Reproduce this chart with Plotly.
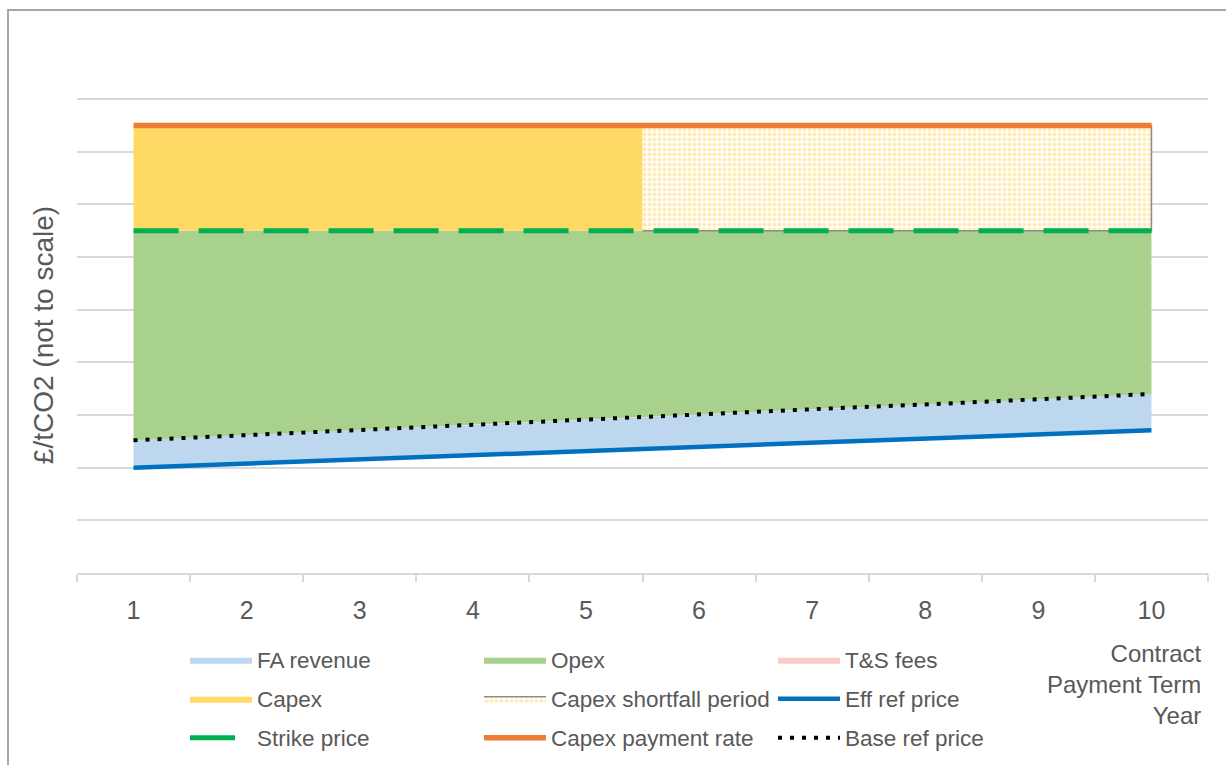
import numpy as np
import plotly.graph_objects as go

# Contract payment term years
years = [1, 2, 3, 4, 5, 6, 7, 8, 9, 10]
year_labels = ["1", "2", "3", "4", "5", "6", "7", "8", "9", "10"]

# Price levels in £/tCO2 (illustrative, not to scale)
eff_ref_price = [2.00, 2.08, 2.16, 2.24, 2.32, 2.39, 2.47, 2.55, 2.63, 2.71]
base_ref_price = [2.52, 2.62, 2.72, 2.81, 2.91, 3.01, 3.11, 3.20, 3.30, 3.40]
strike_price = [6.5, 6.5, 6.5, 6.5, 6.5, 6.5, 6.5, 6.5, 6.5, 6.5]
ts_fees = [0, 0, 0, 0, 0, 0, 0, 0, 0, 0]
capex_payment_rate = [8.5, 8.5, 8.5, 8.5, 8.5, 8.5, 8.5, 8.5, 8.5, 8.5]

# Year at which capex recovery stops and the shortfall period begins
shortfall_start = 5.5

FONT = "Liberation Sans, Arial, sans-serif"
GREY_TEXT = "#595959"
GRID = "#d9d9d9"

strike_plus_ts = [s + t for s, t in zip(strike_price, ts_fees)]


def band(xs, lower, upper):
    """Closed polygon between two boundary series."""
    return list(xs) + list(xs)[::-1], list(lower) + list(upper)[::-1]


fig = go.Figure()

# FA revenue band: effective -> base reference price
bx, by = band(years, eff_ref_price, base_ref_price)
fig.add_trace(go.Scatter(x=bx, y=by, fill="toself", fillcolor="#bdd7ee",
                         mode="lines", line=dict(width=0, color="#bdd7ee"),
                         name="FA revenue", legend="legend", hoverinfo="skip"))

# Opex band: base reference price -> strike price
bx, by = band(years, base_ref_price, strike_price)
fig.add_trace(go.Scatter(x=bx, y=by, fill="toself", fillcolor="#a9d18e",
                         mode="lines", line=dict(width=0, color="#a9d18e"),
                         name="Opex", legend="legend", hoverinfo="skip"))

# T&S fees band (zero height over the term)
bx, by = band(years, strike_price, strike_plus_ts)
fig.add_trace(go.Scatter(x=bx, y=by, fill="toself", fillcolor="#ffc9c9",
                         mode="lines", line=dict(width=0, color="#ffc9c9"),
                         name="T&S fees", legend="legend", hoverinfo="skip"))

# Capex band up to the start of the shortfall period
cap_x = [y for y in years if y < shortfall_start] + [shortfall_start]
cap_lo = np.interp(cap_x, years, strike_plus_ts)
cap_hi = np.interp(cap_x, years, capex_payment_rate)
bx, by = band(cap_x, cap_lo, cap_hi)
fig.add_trace(go.Scatter(x=bx, y=by, fill="toself", fillcolor="#ffd966",
                         mode="lines", line=dict(width=0, color="#ffd966"),
                         name="Capex", legend="legend2", hoverinfo="skip"))

# Capex shortfall period (patterned, outlined on bottom/right/top)
sf_x = [shortfall_start] + [y for y in years if y > shortfall_start]
sf_lo = np.interp(sf_x, years, strike_plus_ts)
sf_hi = np.interp(sf_x, years, capex_payment_rate)
bx, by = band(sf_x, sf_lo, sf_hi)
fig.add_trace(go.Scatter(x=bx, y=by, fill="toself", fillcolor="white",
                         fillpattern=dict(shape=".", fgcolor="#ffd966", bgcolor="white",
                                          size=5, solidity=0.5),
                         mode="lines", line=dict(width=1.5, color="#8c8c8c"),
                         name="Capex shortfall period", legend="legend2", hoverinfo="skip"))

# Price lines
fig.add_trace(go.Scatter(x=years, y=eff_ref_price, mode="lines",
                         line=dict(color="#0070c0", width=4.5),
                         name="Eff ref price", legend="legend2"))
fig.add_trace(go.Scatter(x=years, y=base_ref_price, mode="lines",
                         line=dict(color="black", width=4, dash="4px,8px"),
                         name="Base ref price", legend="legend3"))
fig.add_trace(go.Scatter(x=years, y=strike_price, mode="lines",
                         line=dict(color="#00b050", width=5, dash="45px,20px"),
                         name="Strike price", legend="legend3"))
fig.add_trace(go.Scatter(x=years, y=capex_payment_rate, mode="lines",
                         line=dict(color="#ed7d31", width=5.5),
                         name="Capex payment rate", legend="legend3"))

# Legend ordering within each row
rank = {"FA revenue": 1, "Opex": 2, "T&S fees": 3,
        "Capex": 1, "Capex shortfall period": 2, "Eff ref price": 3,
        "Strike price": 1, "Capex payment rate": 2, "Base ref price": 3}
for tr in fig.data:
    tr.legendrank = rank[tr.name]

W, H = 1226, 765
ML, MR, MT, MB = 77, 18, 97, 192
plot_w = W - ML - MR
plot_h = H - MT - MB


def px_x(p):
    return (p - ML) / plot_w


def px_y(p):
    return (H - MB - p) / plot_h


legend_common = dict(orientation="h", xanchor="left", yanchor="top",
                     x=px_x(185), entrywidth=217, itemwidth=62,
                     font=dict(family=FONT, size=22.5, color=GREY_TEXT),
                     bgcolor="rgba(0,0,0,0)", traceorder="normal",
                     itemclick=False, itemdoubleclick=False)

fig.update_layout(
    width=W, height=H,
    margin=dict(l=ML, r=MR, t=MT, b=MB, autoexpand=False),
    paper_bgcolor="white", plot_bgcolor="white",
    font=dict(family=FONT, color=GREY_TEXT),
    legend=dict(**legend_common, y=px_y(638.5)),
    legend2=dict(**legend_common, y=px_y(677.5)),
    legend3=dict(**legend_common, y=px_y(716.5)),
    xaxis=dict(
        range=[0.5, 10.5], tickvals=years, ticktext=year_labels,
        ticks="", showgrid=False, zeroline=False,
        showline=True, linecolor=GRID, linewidth=2,
        tickfont=dict(family=FONT, size=25, color=GREY_TEXT),
        ticklabelstandoff=14,
        minor=dict(ticks="outside", tick0=0.5, dtick=1, ticklen=7,
                   tickwidth=2, tickcolor=GRID, showgrid=False),
    ),
    yaxis=dict(
        range=[0, 9.04], tick0=0, dtick=1, showticklabels=False,
        showgrid=True, gridcolor=GRID, gridwidth=2, zeroline=False,
        showline=False, ticks="",
        title=dict(text="£/tCO2 (not to scale)", standoff=14,
                   font=dict(family=FONT, size=28, color=GREY_TEXT)),
    ),
    showlegend=True,
)

# Horizontal axis caption, right-aligned beside the legend
fig.add_annotation(text="Contract<br>Payment Term<br>Year", xref="paper", yref="paper",
                   x=px_x(1204), y=px_y(684), xanchor="right", yanchor="middle",
                   align="right", showarrow=False,
                   font=dict(family=FONT, size=24, color=GREY_TEXT))

# Chart frame
fig.add_shape(type="rect", xref="paper", yref="paper",
              x0=px_x(8), x1=px_x(1240), y0=px_y(790), y1=px_y(10),
              line=dict(color="#a6a6a6", width=2), fillcolor="rgba(0,0,0,0)",
              layer="above")

fig.write_html("out.html")
